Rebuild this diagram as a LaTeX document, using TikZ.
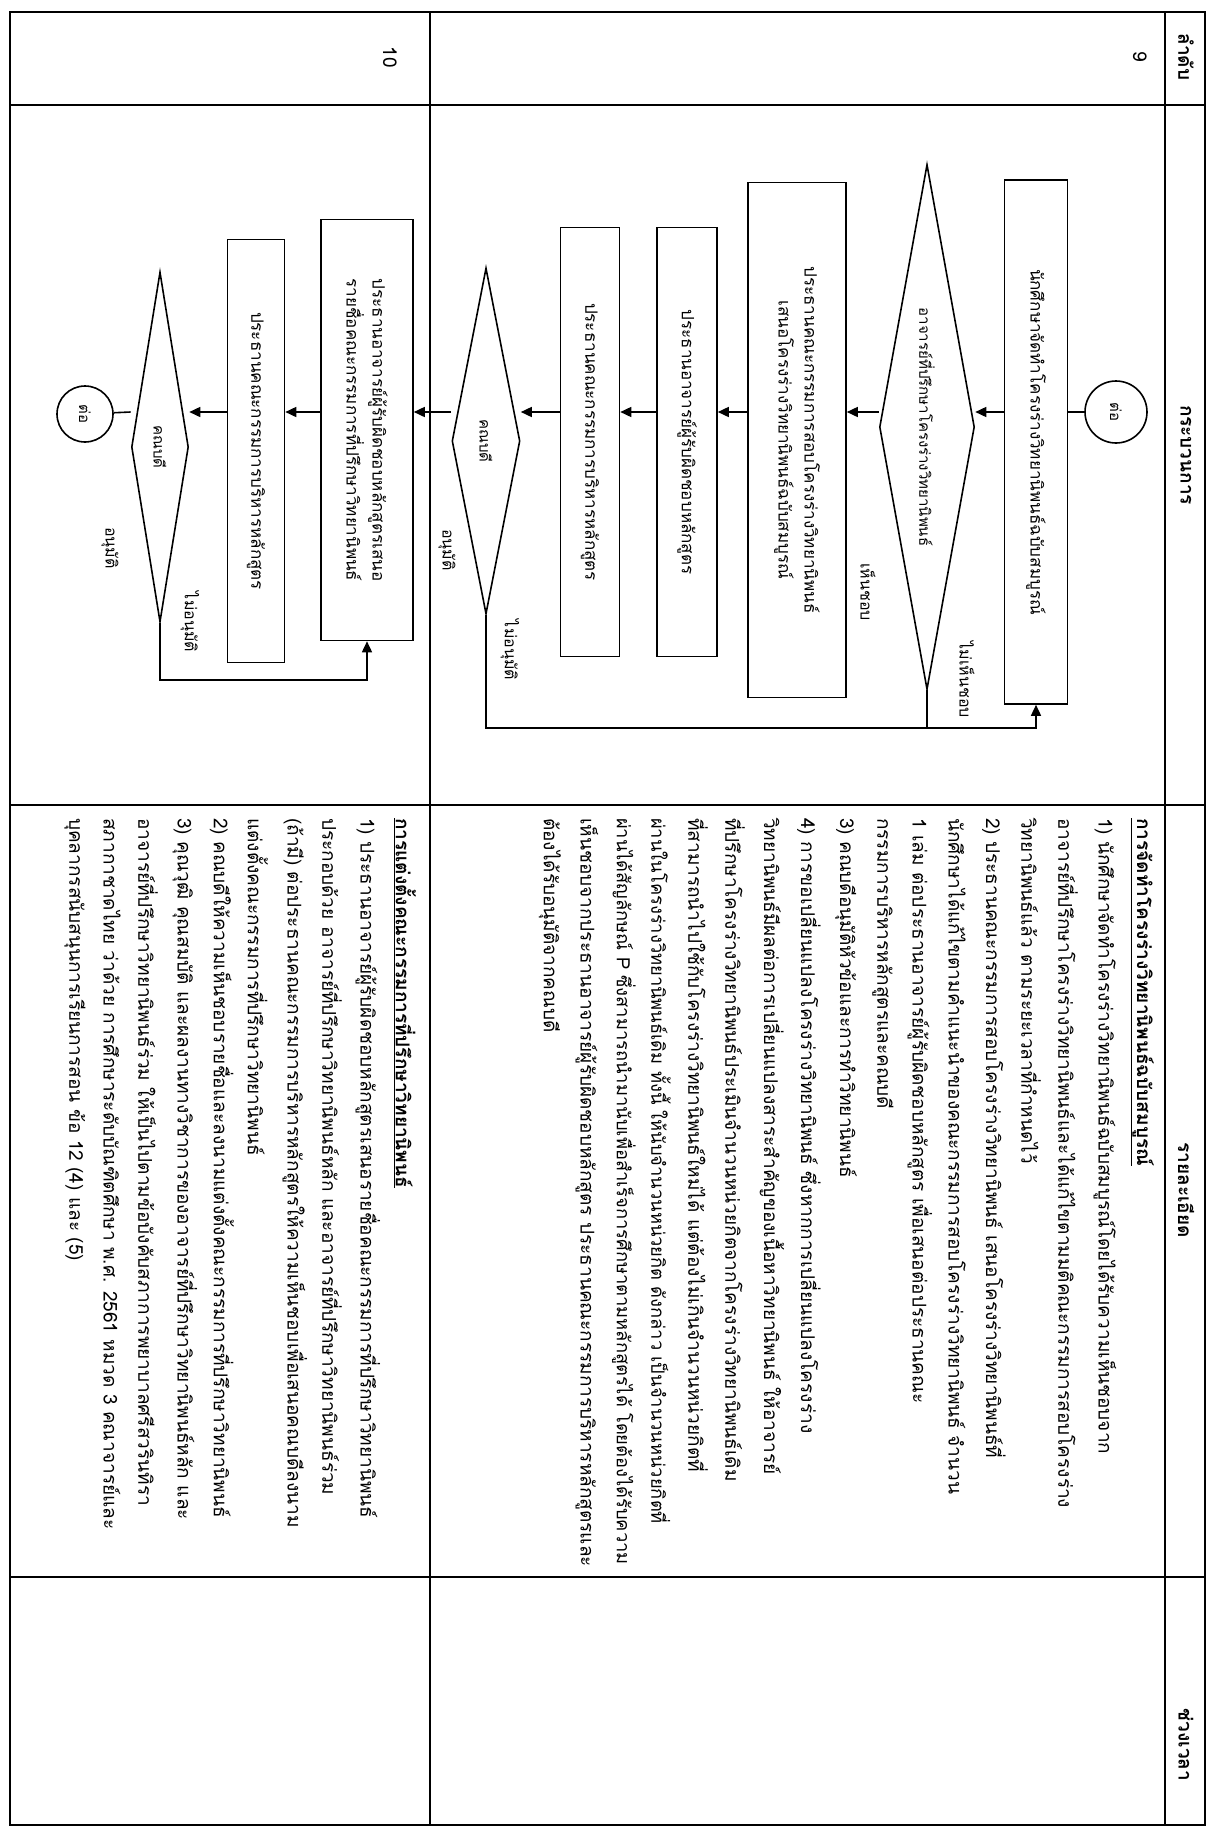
\documentclass[tikz,border=0pt]{standalone}
\usepackage{fontspec}
\newfontfamily\thai[Script=Thai]{Loma}
\usetikzlibrary{shapes.geometric,arrows.meta,calc}
\begin{document}
\begin{tikzpicture}[x=1pt,y=-1pt,
  every node/.style={font=\thai\fontsize{19}{22}\selectfont, inner sep=0pt},
  tline/.style={line width=1.3pt},
  flow/.style={line width=1.6pt},
  arr/.style={flow, -{Triangle[length=11pt,width=10pt]}},
  box/.style={draw, line width=1.6pt, rotate=-90, align=center, font=\thai\fontsize{17}{26}\selectfont},
  dec/.style={draw, diamond, line width=1.6pt, rotate=-90, align=center, font=\thai\fontsize{15}{18}\selectfont},
  conn/.style={draw, circle, line width=1.6pt, rotate=-90, minimum size=62pt, font=\thai\fontsize{15}{18}\selectfont},
  lbl/.style={rotate=-90, font=\thai\fontsize{16}{18}\selectfont},
  hdr/.style={rotate=-90, font=\thai\bfseries\fontsize{19}{22}\selectfont},
  txt/.style={rotate=-90, anchor=west},
  txts/.style={rotate=-90, anchor=west, font=\thai\fontsize{18.3}{22}\selectfont},
  ttl/.style={rotate=-90, anchor=west, font=\thai\bfseries\fontsize{19}{22}\selectfont}]
\useasboundingbox (0,0) rectangle (1208,1832);
\fill[white] (0,0) rectangle (1208,1832);
% table
\draw[tline] (10,12) rectangle (1205,1825);
\draw[tline] (1165,12) -- (1165,1825);
\draw[tline] (430,12) -- (430,1825);
\draw[tline] (10,105) -- (1205,105);
\draw[tline] (10,805) -- (1205,805);
\draw[tline] (10,1577) -- (1205,1577);
% headers
\node[hdr] (h1) at (1186,57) {ลำดับ};
\node[hdr] (h2) at (1186,455) {กระบวนการ};
\node[hdr] (h3) at (1186,1190) {รายละเอียด};
\node[hdr] (h4) at (1186,1745) {ช่วงเวลา};
\node[rotate=-90] (n9) at (1140,57) {9};
\node[rotate=-90] (n10) at (390,57) {10};
% axis coordinates
\coordinate (ay) at (0,412);
\coordinate (lp) at (0,728);
\coordinate (lq) at (0,680);
% row 9 flowchart
\node[conn] (c1) at (1116,412) {ต่อ};
\node[box, minimum width=524pt, minimum height=63pt] (b1) at (1036,442) {นักศึกษาจัดทำโครงร่างวิทยานิพนธ์ฉบับสมบูรณ์};
\node[dec, aspect=5.5, minimum width=525pt, minimum height=95pt] (d1) at (927,427) {อาจารย์ที่ปรึกษาโครงร่างวิทยานิพนธ์};
\node[box, minimum width=515pt, minimum height=98pt] (b2) at (797,440) {ประธานคณะกรรมการสอบโครงร่างวิทยานิพนธ์\\เสนอโครงร่างวิทยานิพนธ์ฉบับสมบูรณ์};
\node[box, minimum width=429pt, minimum height=60pt] (b3) at (687,442) {ประธานอาจารย์ผู้รับผิดชอบหลักสูตร};
\node[box, minimum width=429pt, minimum height=59pt] (b4) at (590,442) {ประธานคณะกรรมการบริหารหลักสูตร};
\node[dec, aspect=5, minimum width=346pt, minimum height=68pt] (d2) at (486,441) {คณบดี};
\node[lbl] (l1) at (967,680) {ไม่เห็นชอบ};
\node[lbl] (l2) at (868,592) {เห็นชอบ};
\node[lbl] (l3) at (510,650) {ไม่อนุมัติ};
\node[lbl] (l4) at (447,550) {อนุมัติ};
\draw[flow] (c1) -- (b1.north |- ay);
\draw[arr] (b1.south |- ay) -- (d1.north |- ay);
\draw[arr] (d1.south |- ay) -- (b2.north |- ay);
\draw[arr] (b2.south |- ay) -- (b3.north |- ay);
\draw[arr] (b3.south |- ay) -- (b4.north |- ay);
\draw[arr] (b4.south |- ay) -- (d2.north |- ay);
\draw[arr] (d1.east) -- (d1.east |- lp) -- (b1.east |- lp) -- (b1.east);
\draw[flow] (d2.east) -- (d2.east |- lp) -- (d1.east |- lp);
% row 10 flowchart
\node[box, minimum width=421pt, minimum height=92pt] (b5) at (367,430) {ประธานอาจารย์ผู้รับผิดชอบหลักสูตรเสนอ\\รายชื่อคณะกรรมการที่ปรึกษาวิทยานิพนธ์};
\node[box, minimum width=423pt, minimum height=57pt] (b6) at (256,451) {ประธานคณะกรรมการบริหารหลักสูตร};
\node[dec, aspect=5, minimum width=350pt, minimum height=57pt] (d3) at (160,447) {คณบดี};
\node[conn, minimum size=56pt] (c2) at (85,414) {ต่อ};
\node[lbl] (l5) at (190,622) {ไม่อนุมัติ};
\node[lbl] (l6) at (110,548) {อนุมัติ};
\draw[arr] (d2.south |- ay) -- (b5.north |- ay);
\draw[arr] (b5.south |- ay) -- (b6.north |- ay);
\draw[arr] (b6.south |- ay) -- (d3.north |- ay);
\draw[flow] (d3.south |- ay) -- (c2);
\draw[arr] (d3.east) -- (d3.east |- lq) -- (b5.east |- lq) -- (b5.east);
% row 9 details
\node[ttl] (t1) at (1142,818) {\underline{การจัดทำโครงร่างวิทยานิพนธ์ฉบับสมบูรณ์}};
\node[txt] (t2) at (1105,818) {1) นักศึกษาจัดทำโครงร่างวิทยานิพนธ์ฉบับสมบูรณ์โดยได้รับความเห็นชอบจาก};
\node[txt] (t3) at (1068,818) {อาจารย์ที่ปรึกษาโครงร่างวิทยานิพนธ์และได้แก้ไขตามมติคณะกรรมการสอบโครงร่าง};
\node[txt] (t4) at (1031,818) {วิทยานิพนธ์แล้ว ตามระยะเวลาที่กำหนดไว้};
\node[txt] (t5) at (994,818) {2) ประธานคณะกรรมการสอบโครงร่างวิทยานิพนธ์ เสนอโครงร่างวิทยานิพนธ์ที่};
\node[txt] (t6) at (957,818) {นักศึกษาได้แก้ไขตามคำแนะนำของคณะกรรมการสอบโครงร่างวิทยานิพนธ์ จำนวน};
\node[txt] (t7) at (920,818) {1 เล่ม ต่อประธานอาจารย์ผู้รับผิดชอบหลักสูตร เพื่อเสนอต่อประธานคณะ};
\node[txt] (t8) at (883,818) {กรรมการบริหารหลักสูตรและคณบดี};
\node[txt] (t9) at (846,818) {3) คณบดีอนุมัติหัวข้อและการทำวิทยานิพนธ์};
\node[txt] (t10) at (809,818) {4) การขอเปลี่ยนแปลงโครงร่างวิทยานิพนธ์ ซึ่งหากการเปลี่ยนแปลงโครงร่าง};
\node[txt] (t11) at (772,818) {วิทยานิพนธ์มีผลต่อการเปลี่ยนแปลงสาระสำคัญของเนื้อหาวิทยานิพนธ์ ให้อาจารย์};
\node[txt] (t12) at (735,818) {ที่ปรึกษาโครงร่างวิทยานิพนธ์ประเมินจำนวนหน่วยกิตจากโครงร่างวิทยานิพนธ์เดิม};
\node[txt] (t13) at (698,818) {ที่สามารถนำไปใช้กับโครงร่างวิทยานิพนธ์ใหม่ได้ แต่ต้องไม่เกินจำนวนหน่วยกิตที่};
\node[txts] (t14) at (661,818) {ผ่านในโครงร่างวิทยานิพนธ์เดิม ทั้งนี้ ให้นับจำนวนหน่วยกิต ดังกล่าว เป็นจำนวนหน่วยกิตที่};
\node[txts] (t15) at (624,818) {ผ่านได้สัญลักษณ์ P ซึ่งสามารถนำมานับเพื่อสำเร็จการศึกษาตามหลักสูตรได้ โดยต้องได้รับความ};
\node[txt] (t16) at (587,818) {เห็นชอบจากประธานอาจารย์ผู้รับผิดชอบหลักสูตร ประธานคณะกรรมการบริหารหลักสูตรและ};
\node[txt] (t17) at (550,818) {ต้องได้รับอนุมัติจากคณบดี};
% row 10 details
\node[ttl] (s1) at (405,818) {\underline{การแต่งตั้งคณะกรรมการที่ปรึกษาวิทยานิพนธ์}};
\node[txt] (s2) at (368,818) {1) ประธานอาจารย์ผู้รับผิดชอบหลักสูตรเสนอรายชื่อคณะกรรมการที่ปรึกษาวิทยานิพนธ์};
\node[txt] (s3) at (332,818) {ประกอบด้วย อาจารย์ที่ปรึกษาวิทยานิพนธ์หลัก และอาจารย์ที่ปรึกษาวิทยานิพนธ์ร่วม};
\node[txt] (s4) at (295,818) {(ถ้ามี) ต่อประธานคณะกรรมการบริหารหลักสูตรให้ความเห็นชอบเพื่อเสนอคณบดีลงนาม};
\node[txt] (s5) at (258,818) {แต่งตั้งคณะกรรมการที่ปรึกษาวิทยานิพนธ์};
\node[txt] (s6) at (222,818) {2) คณบดีให้ความเห็นชอบรายชื่อและลงนามแต่งตั้งคณะกรรมการที่ปรึกษาวิทยานิพนธ์};
\node[txt] (s7) at (185,818) {3) คุณวุฒิ คุณสมบัติ และผลงานทางวิชาการของอาจารย์ที่ปรึกษาวิทยานิพนธ์หลัก และ};
\node[txt] (s8) at (148,818) {อาจารย์ที่ปรึกษาวิทยานิพนธ์ร่วม ให้เป็นไปตามข้อบังคับสภาการพยาบาลศรีสวรินทิรา};
\node[txt] (s9) at (112,818) {สภากาชาดไทย ว่าด้วย การศึกษาระดับบัณฑิตศึกษา พ.ศ. 2561 หมวด 3 คณาจารย์และ};
\node[txt] (s10) at (75,818) {บุคลากรสนับสนุนการเรียนการสอน ข้อ 12 (4) และ (5)};
\end{tikzpicture}
\end{document}
